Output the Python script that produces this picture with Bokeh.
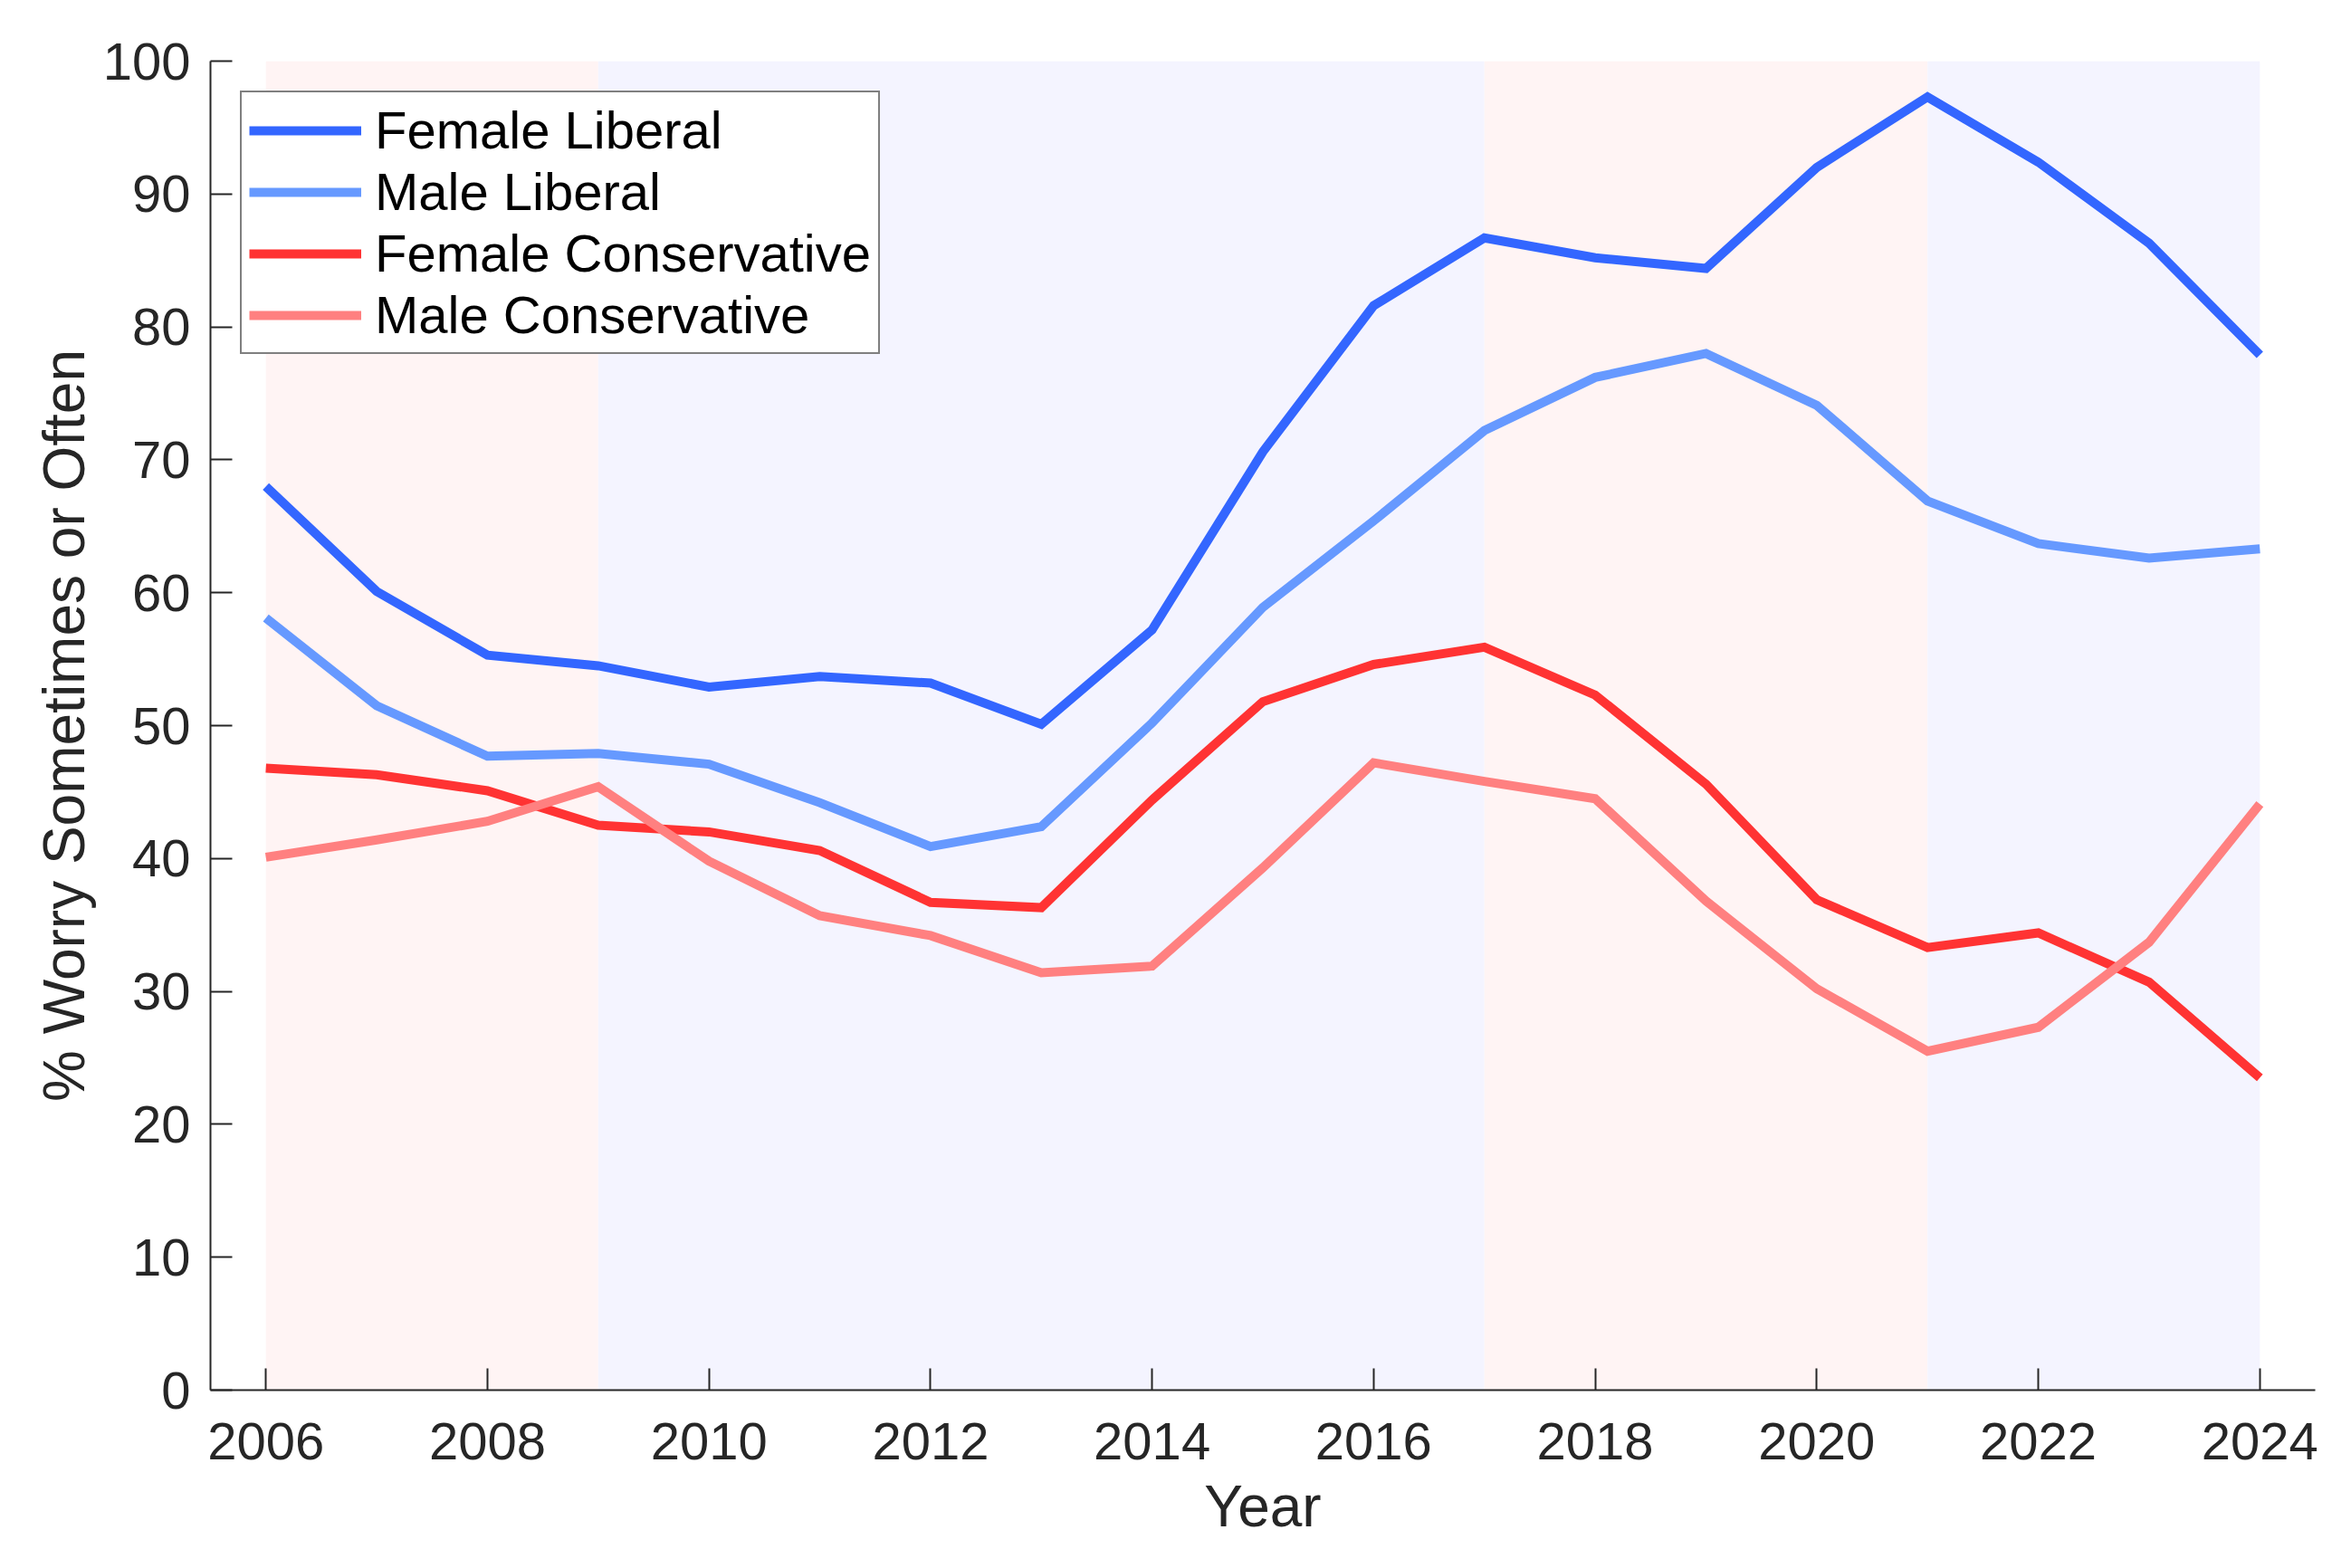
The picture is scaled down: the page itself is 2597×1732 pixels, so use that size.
from bokeh.plotting import figure
from bokeh.models import Range1d, FixedTicker, Legend, LegendItem
from bokeh.embed import file_html
from bokeh.resources import INLINE

# ---- data ----
years = list(range(2006, 2025))
female_liberal = [68.0, 60.1, 55.3, 54.5, 52.9, 53.7, 53.2, 50.1, 57.2, 70.6,
                  81.6, 86.7, 85.2, 84.4, 92.0, 97.3, 92.4, 86.3, 77.9]
male_liberal = [58.1, 51.5, 47.7, 47.9, 47.1, 44.2, 40.9, 42.4, 50.2, 58.9,
                65.4, 72.2, 76.2, 78.0, 74.1, 66.9, 63.7, 62.6, 63.3]
female_conservative = [46.8, 46.3, 45.1, 42.5, 42.0, 40.6, 36.7, 36.3, 44.4, 51.8,
                       54.6, 55.9, 52.3, 45.6, 36.9, 33.3, 34.4, 30.7, 23.5]
male_conservative = [40.1, 41.4, 42.8, 45.4, 39.8, 35.7, 34.2, 31.4, 31.9, 39.3,
                     47.2, 45.8, 44.5, 36.8, 30.2, 25.5, 27.3, 33.7, 44.1]

series_names = ["Female Liberal", "Male Liberal", "Female Conservative", "Male Conservative"]
series_colors = ["#3366FF", "#6699FF", "#FF3333", "#FF8080"]

# presidential terms for background shading
term_start = [2006, 2009, 2017, 2021]
term_end = [2009, 2017, 2021, 2024]
term_color = ["#FFF4F4", "#F4F4FF", "#FFF4F4", "#F4F4FF"]

x_ticks = list(range(2006, 2025, 2))
y_ticks = list(range(0, 101, 10))

FONT = "Liberation Sans"
TXT = "#262626"

p = figure(width=2580, height=1715, output_backend="svg", toolbar_location=None,
           x_range=Range1d(2005.5, 2024.5), y_range=Range1d(0, 100),
           min_border_left=232, min_border_right=23, min_border_top=67,
           min_border_bottom=180)
p.outline_line_color = None
p.xgrid.visible = False
p.ygrid.visible = False
p.background_fill_color = "white"
p.border_fill_color = "white"

p.quad(left=term_start, right=term_end, bottom=[0] * len(term_start),
       top=[100] * len(term_start), fill_color=term_color, line_color=None)

items = []
for name, col, ys in zip(series_names, series_colors,
                         [female_liberal, male_liberal, female_conservative, male_conservative]):
    r = p.line(years, ys, line_color=col, line_width=10, line_join="miter")
    items.append(LegendItem(label=name, renderers=[r]))

legend = Legend(items=items, location="top_left", margin=33,
                border_line_color="#000000", border_line_width=2,
                background_fill_color="white", background_fill_alpha=1.0,
                label_text_font=FONT, label_text_font_size="58px",
                label_text_color="#000000",
                glyph_width=124, glyph_height=60, label_height=60,
                label_standoff=15, spacing=1, padding=8)
p.add_layout(legend)

for ax in (p.xaxis[0], p.yaxis[0]):
    ax.axis_line_color = TXT
    ax.axis_line_width = 2
    ax.major_tick_line_color = TXT
    ax.major_tick_line_width = 2
    ax.major_tick_in = 24
    ax.major_tick_out = 0
    ax.minor_tick_line_color = None
    ax.major_label_text_font = FONT
    ax.major_label_text_font_size = "58px"
    ax.major_label_text_color = TXT
    ax.axis_label_text_font = FONT
    ax.axis_label_text_font_size = "64px"
    ax.axis_label_text_font_style = "normal"
    ax.axis_label_text_color = TXT

p.xaxis[0].ticker = FixedTicker(ticks=x_ticks)
p.yaxis[0].ticker = FixedTicker(ticks=y_ticks)
p.xaxis[0].major_label_standoff = 36
p.yaxis[0].major_label_standoff = 22
p.xaxis[0].axis_label = "Year"
p.yaxis[0].axis_label = "% Worry Sometimes or Often"
p.xaxis[0].axis_label_standoff = 13
p.yaxis[0].axis_label_standoff = 4

open("out.html", "w").write(file_html(p, INLINE))
